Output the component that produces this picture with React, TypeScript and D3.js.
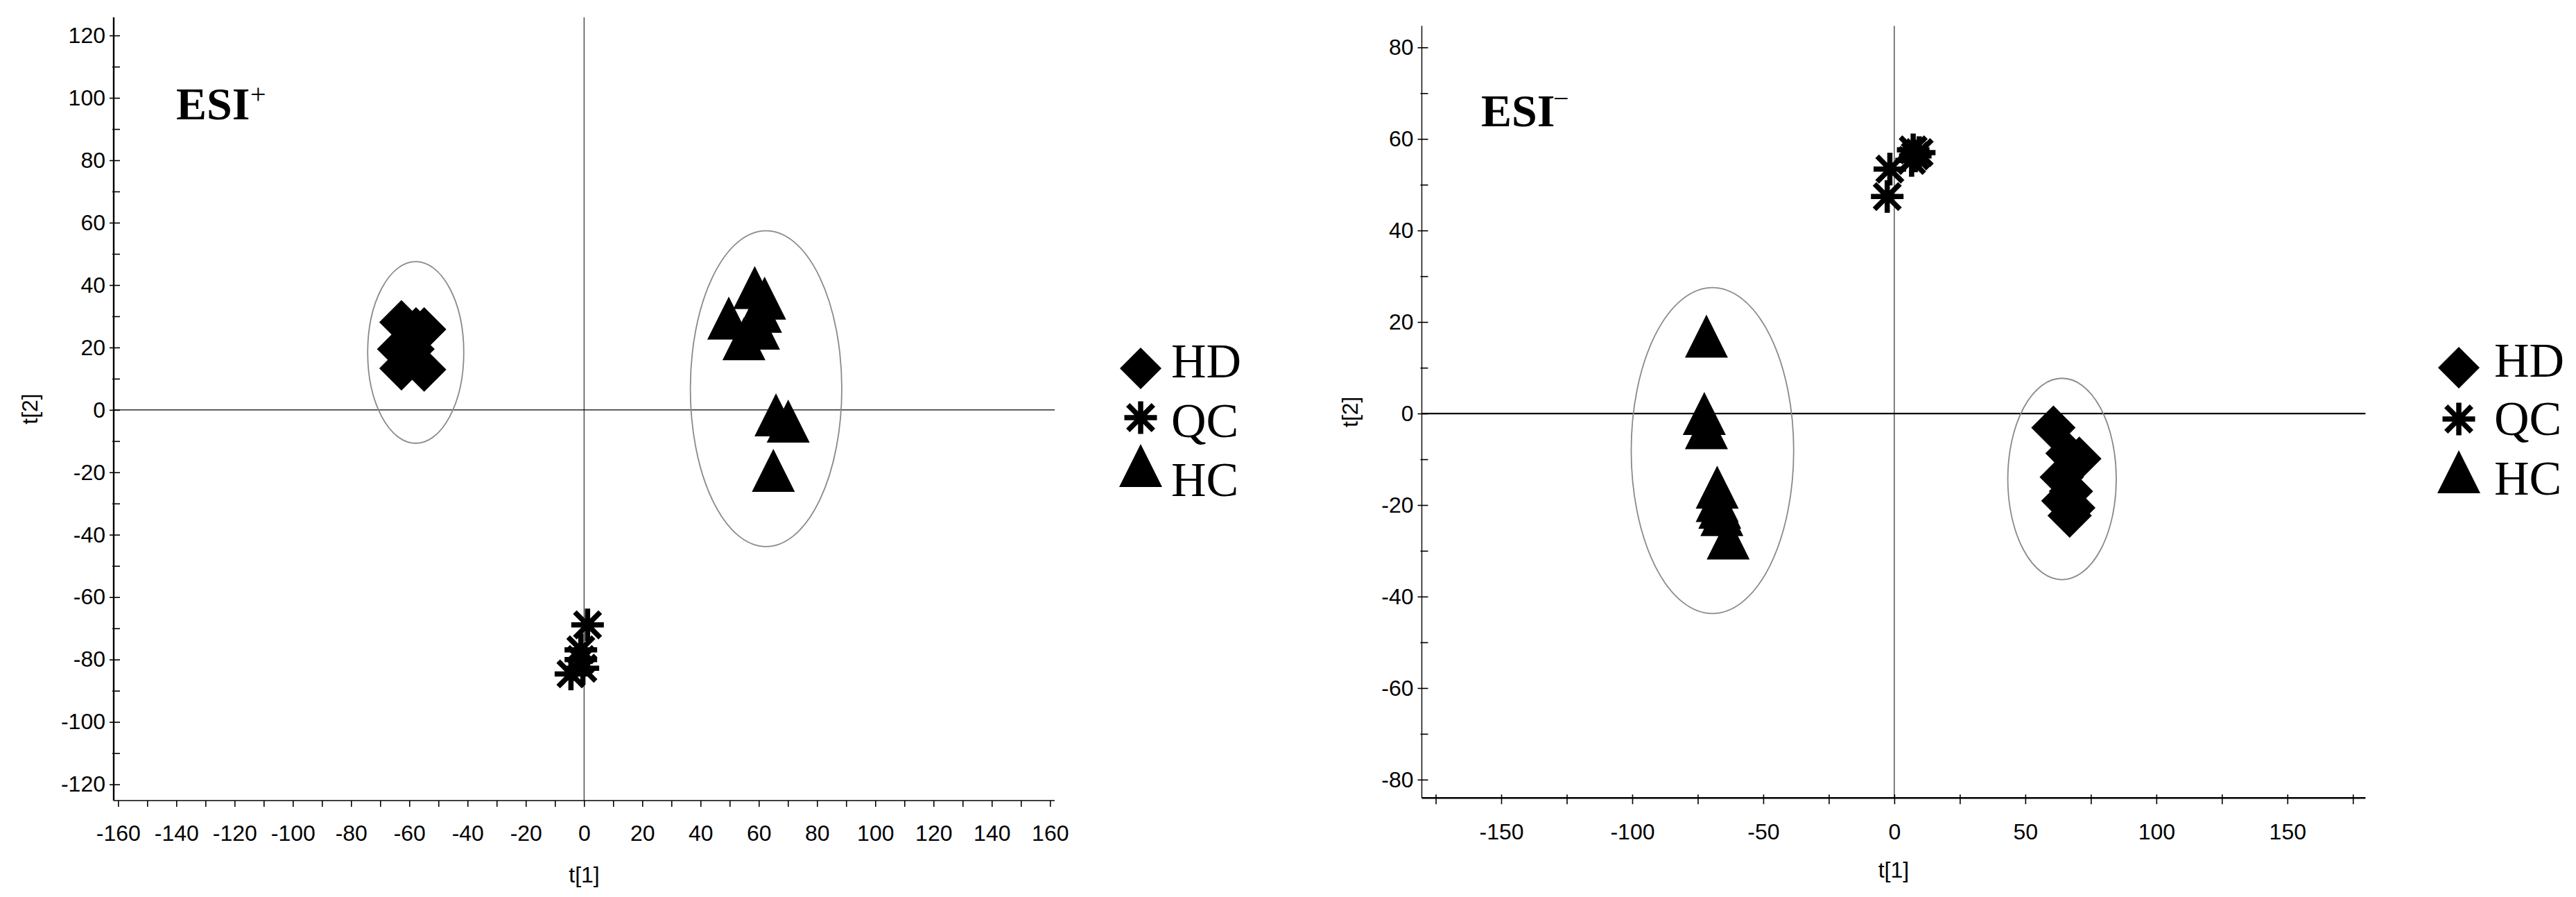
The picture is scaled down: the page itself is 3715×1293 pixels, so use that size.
import React, { useEffect, useRef } from "react";
import * as d3 from "d3";

// ---------- DATA ----------
const groups = ["HD", "QC", "HC"];

// ESI+ score plot (t[1], t[2])
const posHD_t1 = [-62.7, -57.7, -54.9, -63.5, -58.9, -62.7, -54.9];
const posHD_t2 = [28.1, 25.8, 25.8, 19.5, 19.5, 13.3, 12.9];
const posQC_t1 = [1.2, -1.1, -1.1, -0.4, -4.5];
const posQC_t2 = [-68.9, -76.9, -80.0, -82.8, -84.6];
const posHC_t1 = [49.7, 58.6, 62.0, 60.6, 59.9, 54.9, 65.9, 70.1, 65.0];
const posHC_t2 = [29.4, 39.2, 35.8, 31.6, 26.2, 22.8, -1.6, -3.6, -19.4];

// ESI- score plot (t[1], t[2])
const negHD_t1 = [60.7, 66.1, 70.6, 63.9, 67.4, 64.5, 68.3, 66.9];
const negHD_t2 = [-3.1, -8.7, -9.9, -13.9, -17.0, -19.1, -20.6, -22.3];
const negQC_t1 = [-2.7, -1.7, 6.6, 8.0, 9.5, 7.2];
const negQC_t2 = [47.4, 53.4, 55.3, 56.3, 57.0, 57.6];
const negHC_t1 = [-71.7, -72.5, -71.7, -67.6, -67.6, -66.6, -65.8, -63.4];
const negHC_t2 = [16.9, 0.0, -3.1, -16.1, -19.0, -20.5, -22.1, -27.2];

// confidence ellipses (HD, HC): centre and radii in score units
const posEllCx = [-57.8, 62.5];
const posEllCy = [18.4, 6.8];
const posEllRx = [16.5, 26.0];
const posEllRy = [29.1, 50.6];
const negEllCx = [64.0, -69.4];
const negEllCy = [-14.3, -8.1];
const negEllRx = [20.7, 31.0];
const negEllRy = [22.0, 35.6];

// tick values
const posXMajor = [-160, -140, -120, -100, -80, -60, -40, -20, 0, 20, 40, 60, 80, 100, 120, 140, 160];
const posXMinor = [-150, -130, -110, -90, -70, -50, -30, -10, 10, 30, 50, 70, 90, 110, 130, 150];
const posYMajor = [-120, -100, -80, -60, -40, -20, 0, 20, 40, 60, 80, 100, 120];
const posYMinor = [-110, -90, -70, -50, -30, -10, 10, 30, 50, 70, 90, 110];
const negXMajor = [-150, -100, -50, 0, 50, 100, 150];
const negXMinor = [-175, -125, -75, -25, 25, 75, 125, 175];
const negYMajor = [-80, -60, -40, -20, 0, 20, 40, 60, 80];
const negYMinor = [-70, -50, -30, -10, 10, 30, 50, 70];

// ---------- SHAPES ----------
const diamondPath = (h: number) => `M0,${-h}L${h},0L0,${h}L${-h},0Z`;
const trianglePath = (h: number) => `M0,${-h}L${h},${h}L${-h},${h}Z`;
const asteriskPath = (r: number) => {
  const d = r * 0.78;
  return `M0,${-r}L0,${r}M${-r},0L${r},0M${-d},${-d}L${d},${d}M${-d},${d}L${d},${-d}`;
};

const SANS = "'Liberation Sans', Arial, Helvetica, sans-serif";
const SERIF = "'Liberation Serif', 'Times New Roman', Times, serif";

function drawMarkers(g: any, x: any, y: any, t1: number[], t2: number[], kind: string) {
  const pts = t1.map((v, i) => [v, t2[i]]);
  const sel = g
    .append("g")
    .selectAll("path")
    .data(pts)
    .enter()
    .append("path")
    .attr("transform", (d: number[]) => `translate(${x(d[0])},${y(d[1])})`);
  if (kind === "HD") sel.attr("d", diamondPath(32)).attr("fill", "#000");
  else if (kind === "HC") sel.attr("d", trianglePath(31)).attr("fill", "#000");
  else
    sel
      .attr("d", asteriskPath(23.5))
      .attr("fill", "none")
      .attr("stroke", "#000")
      .attr("stroke-width", 7.5)
      .attr("stroke-linecap", "butt");
}

function drawPanel(svg: any, p: any) {
  const { x, y } = p;
  const g = svg.append("g");
  const x0 = x.range()[0];
  const x1 = x.range()[1];
  const yb = y.range()[0];
  const yt = y.range()[1];

  // zero reference lines
  g.append("line")
    .attr("x1", x0).attr("x2", x1).attr("y1", y(0)).attr("y2", y(0))
    .attr("stroke", "#000").attr("stroke-width", p.zeroHW);
  g.append("line")
    .attr("x1", x(0)).attr("x2", x(0)).attr("y1", yt).attr("y2", yb)
    .attr("stroke", "#000").attr("stroke-width", 1);

  // ellipses
  p.ellCx.forEach((cx: number, i: number) => {
    g.append("ellipse")
      .attr("cx", x(cx))
      .attr("cy", y(p.ellCy[i]))
      .attr("rx", x(cx + p.ellRx[i]) - x(cx))
      .attr("ry", y(p.ellCy[i]) - y(p.ellCy[i] + p.ellRy[i]))
      .attr("fill", "none")
      .attr("stroke", "#8a8a8a")
      .attr("stroke-width", 1.8);
  });

  // markers
  drawMarkers(g, x, y, p.hd[0], p.hd[1], "HD");
  drawMarkers(g, x, y, p.hc[0], p.hc[1], "HC");
  drawMarkers(g, x, y, p.qc[0], p.qc[1], "QC");

  // x axis (minor then major)
  const gxm = g.append("g").attr("transform", `translate(0,${yb})`)
    .call(d3.axisBottom(x).tickValues(p.xMinor).tickFormat(() => "").tickSize(9).tickSizeOuter(0));
  gxm.select(".domain").remove();
  gxm.selectAll(".tick line").attr("y1", -p.xTickUp).attr("stroke-width", 1.6);

  const gx = g.append("g").attr("transform", `translate(0,${yb})`)
    .call(d3.axisBottom(x).tickValues(p.xMajor).tickFormat((d: any) => String(d)).tickSize(9).tickSizeOuter(0));
  gx.attr("font-size", 32).attr("font-family", SANS);
  gx.select(".domain").attr("stroke-width", p.xAxisW).attr("d", `M${x0},0H${x1}`);
  gx.selectAll(".tick line").attr("y1", -p.xTickUp).attr("stroke-width", 1.6);
  gx.selectAll(".tick text").attr("y", p.xLabelOff).attr("dy", "0.71em").attr("fill", "#000");

  // y axis (minor then major)
  const gym = g.append("g").attr("transform", `translate(${x0},0)`)
    .call(d3.axisLeft(y).tickValues(p.yMinor).tickFormat(() => "").tickSize(0).tickSizeOuter(0));
  gym.select(".domain").remove();
  gym.selectAll(".tick line").attr("x1", 9).attr("x2", -2).attr("stroke-width", 1.6);

  const gy = g.append("g").attr("transform", `translate(${x0},0)`)
    .call(d3.axisLeft(y).tickValues(p.yMajor).tickFormat((d: any) => String(d)).tickSize(6).tickSizeOuter(0));
  gy.attr("font-size", 32).attr("font-family", SANS);
  gy.select(".domain").attr("stroke-width", p.yAxisW).attr("d", `M0,${yb}V${yt}`);
  gy.selectAll(".tick line").attr("x1", 9).attr("stroke-width", 1.6);
  gy.selectAll(".tick text").attr("x", -12).attr("fill", "#000");

  // axis titles
  g.append("text")
    .attr("x", (x0 + x1) / 2).attr("y", p.t1Y)
    .attr("text-anchor", "middle").attr("font-family", SANS).attr("font-size", 32)
    .text("t[1]");
  g.append("text")
    .attr("transform", `translate(${p.t2X},${(yt + yb) / 2}) rotate(-90)`)
    .attr("text-anchor", "middle").attr("font-family", SANS).attr("font-size", 32)
    .text("t[2]");

  // panel title
  g.append("text")
    .attr("x", p.titleX).attr("y", p.titleY)
    .attr("font-family", SERIF).attr("font-weight", "bold").attr("font-size", 66)
    .text("ESI");
  g.append("text")
    .attr("x", p.supX).attr("y", p.supY)
    .attr("font-family", SERIF).attr("font-size", 40)
    .text(p.sup);

  // legend
  const lg = g.append("g");
  groups.forEach((name, i) => {
    const cy = p.legSymY[i];
    const path = lg.append("path").attr("transform", `translate(${p.legSymX},${cy})`);
    if (name === "HD") path.attr("d", diamondPath(30)).attr("fill", "#000");
    else if (name === "HC") path.attr("d", trianglePath(31)).attr("fill", "#000");
    else path.attr("d", asteriskPath(23.5)).attr("fill", "none").attr("stroke", "#000").attr("stroke-width", 7.5);
    lg.append("text")
      .attr("x", p.legTextX).attr("y", p.legTextY[i])
      .attr("font-family", SERIF).attr("font-size", 70)
      .text(name);
  });
}

export default function App() {
  const ref = useRef<SVGSVGElement | null>(null);

  useEffect(() => {
    const svg = d3.select(ref.current);
    svg.selectAll("*").remove();

    const xL = d3.scaleLinear().domain([-161.5, 161.6]).range([164, 1521]);
    const yL = d3.scaleLinear().domain([-125.2, 125.8]).range([1154, 25]);
    const xR = d3.scaleLinear().domain([-180.3, 179.8]).range([2050.5, 3411.4]);
    const yR = d3.scaleLinear().domain([-84, 84.7]).range([1150.2, 37.3]);

    drawPanel(svg, {
      x: xL, y: yL,
      xMajor: posXMajor, xMinor: posXMinor, yMajor: posYMajor, yMinor: posYMinor,
      hd: [posHD_t1, posHD_t2], qc: [posQC_t1, posQC_t2], hc: [posHC_t1, posHC_t2],
      ellCx: posEllCx, ellCy: posEllCy, ellRx: posEllRx, ellRy: posEllRy,
      zeroHW: 1.2, xAxisW: 1.6, yAxisW: 2.4, xTickUp: 0, xLabelOff: 35,
      t1Y: 1272, t2X: 54,
      titleX: 254, titleY: 172, sup: "+", supX: 361, supY: 149,
      legSymX: 1645, legSymY: [531, 602, 671], legTextX: 1689, legTextY: [544, 630, 715],
    });

    drawPanel(svg, {
      x: xR, y: yR,
      xMajor: negXMajor, xMinor: negXMinor, yMajor: negYMajor, yMinor: negYMinor,
      hd: [negHD_t1, negHD_t2], qc: [negQC_t1, negQC_t2], hc: [negHC_t1, negHC_t2],
      ellCx: negEllCx, ellCy: negEllCy, ellRx: negEllRx, ellRy: negEllRy,
      zeroHW: 2.2, xAxisW: 2.6, yAxisW: 1.4, xTickUp: 5, xLabelOff: 37,
      t1Y: 1265, t2X: 1958,
      titleX: 2136, titleY: 182, sup: "\u2212", supX: 2240, supY: 155,
      legSymX: 3546, legSymY: [530, 604, 680], legTextX: 3597, legTextY: [543, 627, 713],
    });
  }, []);

  return (
    <svg
      ref={ref}
      width={3715}
      height={1293}
      style={{ position: "absolute", left: 0, top: 0, background: "#fff" }}
    />
  );
}
